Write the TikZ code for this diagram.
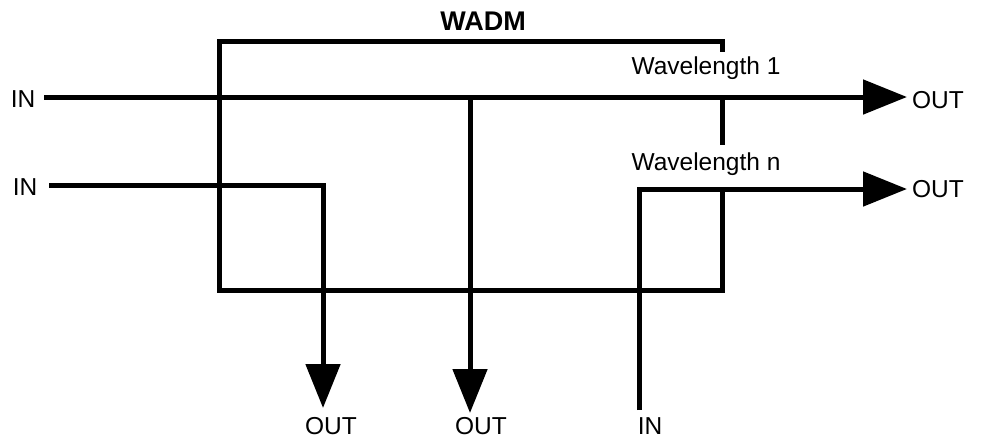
\documentclass[tikz,border=0pt]{standalone}
\usepackage{fontspec}
\setmainfont{Liberation Sans}
\usetikzlibrary{arrows.meta}
\begin{document}
\begin{tikzpicture}[x=1pt,y=-1pt,line width=5pt,
  lbl/.style={inner sep=0pt,anchor=base,font=\fontsize{24.5}{28}\selectfont},
  ttl/.style={inner sep=0pt,anchor=base,font=\fontsize{27}{30}\selectfont\bfseries},
  frame/.style={line width=5pt},
  sig/.style={line width=5pt,-{Triangle[length=44pt,width=34pt]}}]
\useasboundingbox (0,0) rectangle (982,439);
% labels
\node[lbl] (in1) at (23,107) {IN};
\node[lbl] (in2) at (25,195) {IN};
\node[lbl] (out1) at (938,108) {OUT};
\node[lbl] (out2) at (938,197) {OUT};
\node[lbl] (outb1) at (331,434) {OUT};
\node[lbl] (outb2) at (481,434) {OUT};
\node[lbl] (inb) at (650,434) {IN};
\node[ttl] (wadm) at (483,30) {WADM};
\node[lbl] (wl1) at (706,74) {Wavelength 1};
\node[lbl] (wln) at (706,170) {Wavelength n};
% frame
\coordinate (bTL) at (219,41);
\coordinate (bTR) at (722,41);
\coordinate (bBR) at (722,290);
\coordinate (bBL) at (219,290);
\draw[frame] (bTL) -- (bTR) -- (722,52);
\draw[frame] (722,97) -- (722,145);
\draw[frame,line join=miter] (722,189) -- (bBR) -- (bBL) -- ([yshift=2.5pt]bTL);
% signals
\coordinate (s1a) at (44,97);
\coordinate (s1b) at (907,97);
\draw[sig] (s1a) -- (s1b);
\coordinate (tap) at (470,97);
\coordinate (tapend) at (470,413);
\draw[sig] (tap) -- (tapend);
\coordinate (s2a) at (49,185);
\coordinate (s2c) at (323,185);
\coordinate (s2b) at (323,408);
\draw[sig] (s2a) -- (s2c) -- (s2b);
\coordinate (s3a) at (639,410);
\coordinate (s3c) at (639,189);
\coordinate (s3b) at (907,189);
\draw[sig] (s3a) -- (s3c) -- (s3b);
\end{tikzpicture}
\end{document}
